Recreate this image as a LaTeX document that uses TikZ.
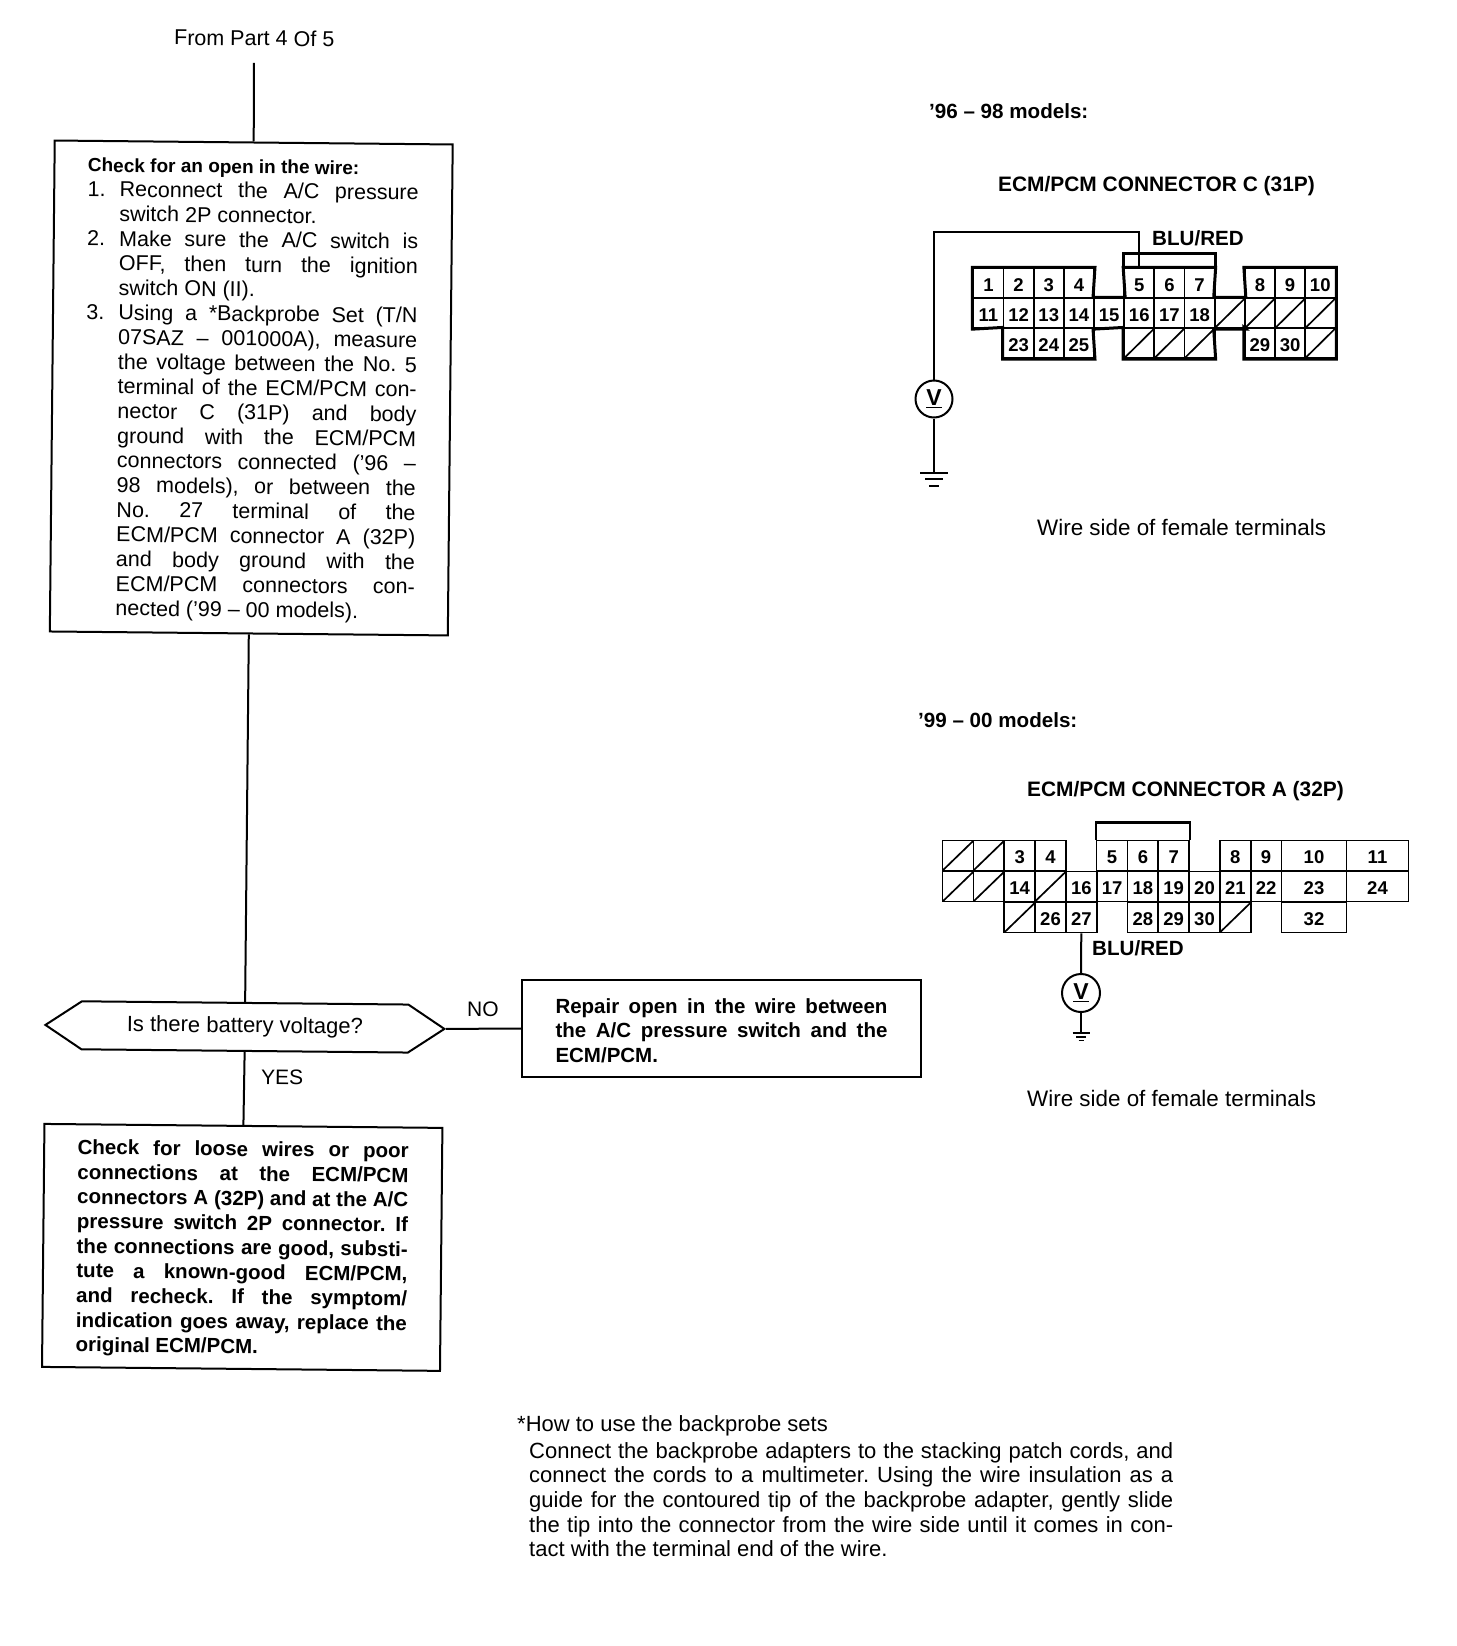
\documentclass[tikz,border=0pt]{standalone}
\usepackage{fontspec}
\setmainfont{Liberation Sans}
\usepackage{tikz}
\usetikzlibrary{shapes.symbols,calc}

\frenchspacing
\newcommand{\fullline}[1]{\makebox[331pt][s]{#1}}
\newcommand{\itemline}[2]{\makebox[32pt][l]{#1}\makebox[299pt][s]{#2}}
\newcommand{\repairline}[1]{\makebox[332pt][s]{#1}}
\newcommand{\noteline}[1]{\makebox[644pt][s]{#1}}
\newcommand{\topgap}{\rule{0pt}{19pt}}

\tikzset{
  wire/.style={line width=2pt},
  flowbox/.style={draw,line width=2pt,inner sep=0pt,align=left,font=\fontsize{21.5}{24.65}\selectfont},
  plaintext/.style={inner sep=0pt,anchor=west,font=\fontsize{22}{24.65}\selectfont},
  boldtext/.style={inner sep=0pt,anchor=west,font=\fontsize{20.6}{24.65}\selectfont\bfseries},
  cellbox/.style={draw,line width=1.7pt,inner sep=0pt,minimum width=#1,minimum height=30pt,text height=15.5pt,text depth=0pt,
    font=\fontsize{18.5}{20}\selectfont\bfseries},
  cellbox/.default=30.4pt,
  hatchbox/.style={cellbox=#1,path picture={\draw[line width=1.7pt]
    (path picture bounding box.south west) -- (path picture bounding box.north east);}},
  hatchbox/.default=30.4pt,
  meter/.style={draw,circle,line width=2pt,inner sep=0pt,minimum size=37pt,font=\fontsize{23}{24}\selectfont\bfseries}
}

\begin{document}
\begin{tikzpicture}[x=1pt,y=-1pt]
  \useasboundingbox (0,0) rectangle (1456,1646);

  % flow chart, sits a little skew on the page
  \begin{scope}[rotate around={-0.57:(254,63)},transform shape]
    \node[plaintext,anchor=center,font=\fontsize{21.5}{24}\selectfont] (fromlabel) at (254,38) {From Part 4 Of 5};
    \coordinate (fromend) at (254,63);
    \node[flowbox,minimum width=398pt,minimum height=491pt] (checkwire) at (254.5,388) {%
      \topgap\textbf{\fontsize{19}{24.65}\selectfont Check for an open in the wire:}\\
      \itemline{1.}{Reconnect the A/C pressure}\\
      \itemline{}{switch 2P connector.\hfill}\\
      \itemline{2.}{Make sure the A/C switch is}\\
      \itemline{}{OFF, then turn the ignition}\\
      \itemline{}{switch ON (II).\hfill}\\
      \itemline{3.}{Using a *Backprobe Set (T/N}\\
      \itemline{}{07SAZ – 001000A), measure}\\
      \itemline{}{the voltage between the No. 5}\\
      \itemline{}{terminal of the ECM/PCM con-}\\
      \itemline{}{nector C (31P) and body}\\
      \itemline{}{ground with the ECM/PCM}\\
      \itemline{}{connectors connected ('96 –}\\
      \itemline{}{98 models), or between the}\\
      \itemline{}{No. 27 terminal of the}\\
      \itemline{}{ECM/PCM connector A (32P)}\\
      \itemline{}{and body ground with the}\\
      \itemline{}{ECM/PCM connectors con-}\\
      \itemline{}{nected ('99 – 00 models).\hfill}};
    \node[signal,signal to=west and east,signal pointer angle=67,draw,line width=2pt,inner sep=0pt,
      minimum width=399pt,minimum height=48pt,font=\fontsize{22}{24}\selectfont] (voltcheck) at (254.5,1027)
      {Is there battery voltage?};
    \node[flowbox,font=\fontsize{20.5}{24.65}\selectfont\bfseries,minimum width=398pt,minimum height=243pt] (loosewires) at (254,1247.5) {%
      \topgap\fullline{Check for loose wires or poor}\\
      \fullline{connections at the ECM/PCM}\\
      \fullline{connectors A (32P) and at the A/C}\\
      \fullline{pressure switch 2P connector. If}\\
      \fullline{the connections are good, substi-}\\
      \fullline{tute a known-good ECM/PCM,}\\
      \fullline{and recheck. If the symptom/}\\
      \fullline{indication goes away, replace the}\\
      \fullline{original ECM/PCM.\hfill}};
    \draw[wire] (fromend) -- (checkwire.north);
    \draw[wire] (checkwire.south) -- (voltcheck.north);
    \draw[wire] (voltcheck.south) -- (loosewires.north);
    \node[plaintext,font=\fontsize{21}{24}\selectfont] (yeslabel) at (271,1077) {YES};
  \end{scope}

  \node[flowbox,font=\fontsize{20.5}{24.65}\selectfont\bfseries,minimum width=399pt,minimum height=97pt] (repairwire) at (721.5,1028.5) {%
    \topgap\repairline{Repair open in the wire between}\\
    \repairline{the A/C pressure switch and the}\\
    \repairline{ECM/PCM.\hfill}};
  \draw[wire] (voltcheck.east) -- (repairwire.west);
  \node[plaintext,font=\fontsize{21}{24}\selectfont] (nolabel) at (467,1009) {NO};

  \node[plaintext] (probetitle) at (517,1426) {*How to use the backprobe sets};
  \node[plaintext,align=left,anchor=north west] (probenote) at (529,1442) {%
    \noteline{Connect the backprobe adapters to the stacking patch cords, and}\\
    \noteline{connect the cords to a multimeter. Using the wire insulation as a}\\
    \noteline{guide for the contoured tip of the backprobe adapter, gently slide}\\
    \noteline{the tip into the connector from the wire side until it comes in con-}\\
    \noteline{tact with the terminal end of the wire.\hfill}};

  % 96-98 connector
  \node[boldtext] (modelsc) at (929,111) {'96 – 98 models:};
  \node[boldtext,font=\fontsize{20.9}{24}\selectfont\bfseries] (titlec) at (998,186) {ECM/PCM CONNECTOR C (31P)};
  \foreach \col/\row/\lab in {0/0/1,1/0/2,2/0/3,3/0/4,5/0/5,6/0/6,7/0/7,9/0/8,10/0/9,11/0/10,
    0/1/11,1/1/12,2/1/13,3/1/14,4/1/15,5/1/16,6/1/17,7/1/18,1/2/23,2/2/24,3/2/25,9/2/29,10/2/30}
    \node[cellbox] (kc\lab) at ({973.3+30.17*\col+15.1},{268.3+30*\row+15}) {\lab};
  \foreach \col/\row/\lab in {8/1/a,9/1/b,10/1/c,11/1/d,5/2/e,6/2/f,7/2/g,11/2/h}
    \node[hatchbox] (kc\lab) at ({973.3+30.17*\col+15.1},{268.3+30*\row+15}) {};
  \draw[line width=3pt,line join=miter] (kc1.north west) -- (kc4.north east) -- (kc15.north west) -- (kc15.north east)
    -- (kc5.north west) -- (kc7.north east) -- (kca.north west) -- (kca.north east) -- (kc8.north west)
    -- (kc10.north east) -- (kch.south east) -- (kc29.south west) -- (kc29.north west) -- (kca.south east)
    -- (kca.south west) -- (kcg.south east) -- (kce.south west) -- (kce.north west) -- (kc15.south west)
    -- (kc25.south east) -- (kc23.south west) -- (kc23.north west) -- (kc11.south west) -- cycle;
  \draw[line width=3pt] (kc5.north west) -- ++(0,-14) -| (kc7.north east);
  \coordinate (bendc) at (934,232);
  \node[meter] (meterc) at (934,399) {\underline{V}};
  \node[boldtext] (wirec) at (1152,238) {BLU/RED};
  \draw[wire] (kc5.north) |- (bendc) -- (meterc.north);
  \coordinate (groundc) at (934,473);
  \draw[wire] (meterc.south) -- (groundc);
  \draw[wire] ($(groundc)+(-14,0)$) -- ($(groundc)+(14,0)$);
  \draw[line width=1.5pt] ($(groundc)+(-9,6)$) -- ($(groundc)+(9,6)$);
  \draw[line width=1.5pt] ($(groundc)+(-5,13)$) -- ($(groundc)+(5,13)$);
  \node[plaintext,font=\fontsize{22.4}{24}\selectfont] (sidec) at (1037,527) {Wire side of female terminals};

  % 99-00 connector
  \node[boldtext] (modelsa) at (918,720) {'99 – 00 models:};
  \node[boldtext,font=\fontsize{20.9}{24}\selectfont\bfseries] (titlea) at (1027,791) {ECM/PCM CONNECTOR A (32P)};
  \foreach \col/\row/\lab in {2/0/3,3/0/4,5/0/5,6/0/6,7/0/7,9/0/8,10/0/9,
    2/1/14,4/1/16,5/1/17,6/1/18,7/1/19,8/1/20,9/1/21,10/1/22,3/2/26,4/2/27,6/2/28,7/2/29,8/2/30}
    \node[cellbox=31pt] (ka\lab) at ({942.7+30.8*\col+15.4},{840+31*\row+15.5}) {\lab};
  \foreach \col/\row/\lab in {0/0/a,1/0/b,0/1/c,1/1/d,3/1/e,2/2/f,9/2/g}
    \node[hatchbox=31pt] (ka\lab) at ({942.7+30.8*\col+15.4},{840+31*\row+15.5}) {};
  \foreach \xpos/\wide/\row/\lab in {1314/65/0/10,1377.5/62/0/11,1314/65/1/23,1377.5/62/1/24,1314/65/2/32}
    \node[cellbox=\wide pt] (ka\lab) at (\xpos,{840+31*\row+15.5}) {\lab};
  \draw[line width=2.4pt] (ka5.north west) -- ++(0,-17) -| (ka7.north east);
  \node[meter,minimum size=38pt] (metera) at (1081,993) {\underline{V}};
  \node[boldtext] (wirea) at (1092,948) {BLU/RED};
  \draw[wire] (ka27.south) -- (metera.north);
  \coordinate (grounda) at (1081,1033);
  \draw[wire] (metera.south) -- (grounda);
  \draw[wire] ($(grounda)+(-8.5,0)$) -- ($(grounda)+(8.5,0)$);
  \draw[line width=1.5pt] ($(grounda)+(-5,4)$) -- ($(grounda)+(5,4)$);
  \draw[line width=1.5pt] ($(grounda)+(-2.5,7.5)$) -- ($(grounda)+(2.5,7.5)$);
  \node[plaintext,font=\fontsize{22.4}{24}\selectfont] (sidea) at (1027,1098) {Wire side of female terminals};
\end{tikzpicture}
\end{document}
